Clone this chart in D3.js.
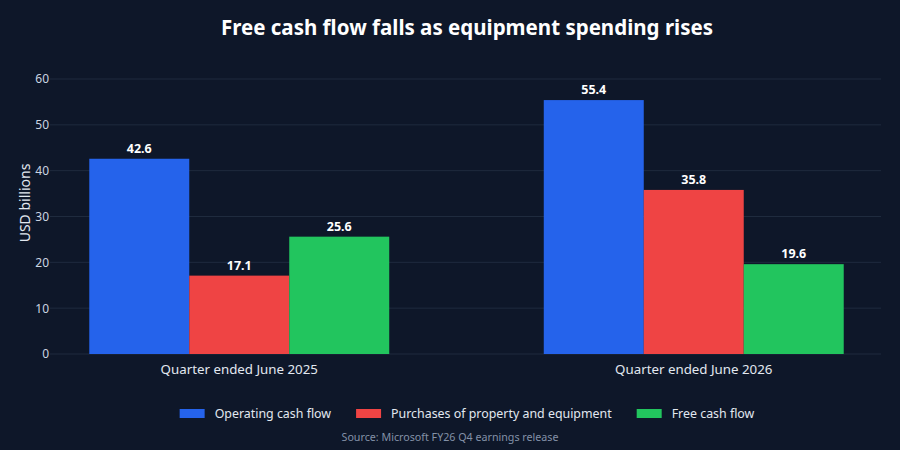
<!DOCTYPE html>
<html>
<head>
<meta charset="utf-8">
<script src="https://cdn.jsdelivr.net/npm/d3@7"></script>
<style>
    body { margin: 0; background: #0e1729; }
    text { font-family: "Noto Sans", "Open Sans", sans-serif; }
</style>
</head>
<body>
<script>
// chart values
var quarters = ["Quarter ended June 2025", "Quarter ended June 2026"];
var seriesNames = ["Operating cash flow", "Purchases of property and equipment", "Free cash flow"];
var operatingCash = [42.6, 55.4];
var capexSpend = [17.1, 35.8];
var freeCash = [25.6, 19.6];
var yTicks = [0, 10, 20, 30, 40, 50, 60];
var seriesColors = ["#2563eb", "#ef4444", "#22c55e"];

(function(){

var width = 900,
    height = 450,
    plotLeft = 52,
    plotRight = 881,
    plotTop = 79,
    plotBottom = 354;

var svg = d3.select("body")
    .append("svg")
    .attr("width", width)
    .attr("height", height);

svg.append("rect")
    .attr("width", width)
    .attr("height", height)
    .attr("fill", "#0e1729");

var seriesValues = [operatingCash, capexSpend, freeCash];
var rows = [];
quarters.forEach(function(q, i){
    seriesNames.forEach(function(s, j){
        rows.push({quarter: q, series: s, value: seriesValues[j][i], idx: j});
    });
});

var x0 = d3.scaleBand()
    .domain(quarters)
    .range([plotLeft, plotRight])
    .paddingInner(0.34)
    .paddingOuter(0.082);

var x1 = d3.scaleBand()
    .domain(seriesNames)
    .range([0, x0.bandwidth()]);

var y = d3.scaleLinear()
    .domain([0, 60])
    .range([plotBottom, plotTop]);

//grid lines (they start a little left of the plot edge)
svg.selectAll(".grid")
    .data(yTicks)
    .enter()
    .append("line")
    .attr("class", "grid")
    .attr("x1", plotLeft - 2)
    .attr("x2", plotRight)
    .attr("y1", function(d){ return y(d); })
    .attr("y2", function(d){ return y(d); })
    .attr("stroke", "#1f2b3e")
    .attr("stroke-width", 1);

var yAxis = d3.axisLeft(y).tickValues(yTicks).tickSize(0).tickPadding(0);
var yg = svg.append("g")
    .attr("transform", "translate(" + (plotLeft - 3) + ",0)")
    .call(yAxis);
yg.select(".domain").remove();
yg.selectAll("text")
    .attr("fill", "#cbd5e1")
    .style("font-family", "'Noto Sans', sans-serif")
    .style("font-size", "12px");

svg.append("text")
    .attr("transform", "translate(30,203) rotate(-90)")
    .attr("text-anchor", "middle")
    .attr("fill", "#e2e8f0")
    .style("font-size", "14px")
    .text("USD billions");

//bars
svg.selectAll(".bar")
    .data(rows)
    .enter()
    .append("rect")
    .attr("class", "bar")
    .attr("x", function(d){ return x0(d.quarter) + x1(d.series); })
    .attr("width", x1.bandwidth())
    .attr("y", function(d){ return y(d.value); })
    .attr("height", function(d){ return y(0) - y(d.value); })
    .attr("fill", function(d){ return seriesColors[d.idx]; });

svg.selectAll(".barLabel")
    .data(rows)
    .enter()
    .append("text")
    .attr("class", "barLabel")
    .attr("x", function(d){ return x0(d.quarter) + x1(d.series) + x1.bandwidth() / 2; })
    .attr("y", function(d){ return y(d.value) - 6; })
    .attr("text-anchor", "middle")
    .attr("fill", "#ffffff")
    .style("font-size", "12.5px")
    .style("font-weight", "bold")
    .text(function(d){ return d.value.toFixed(1); });

var xAxis = d3.axisBottom(x0).tickSize(0).tickPadding(0);
var xg = svg.append("g")
    .attr("transform", "translate(0," + (plotBottom + 8) + ")")
    .call(xAxis);
xg.select(".domain").remove();
xg.selectAll("text")
    .attr("fill", "#e2e8f0")
    .attr("dy", "0.9em")
    .style("font-family", "'Noto Sans', sans-serif")
    .style("font-size", "13.3px");

//title
svg.append("text")
    .attr("x", width / 2 + 17)
    .attr("y", 35)
    .attr("text-anchor", "middle")
    .attr("fill", "#ffffff")
    .style("font-size", "20.5px")
    .style("font-weight", "bold")
    .text("Free cash flow falls as equipment spending rises");

//legend, laid out then centred on the plot
var legend = svg.append("g");
var legendX = 0;
seriesNames.forEach(function(name, i){
    var g = legend.append("g").attr("transform", "translate(" + legendX + ",413)");
    g.append("rect")
        .attr("x", 0)
        .attr("y", -4)
        .attr("width", 25)
        .attr("height", 9)
        .attr("fill", seriesColors[i]);
    var t = g.append("text")
        .attr("x", 35)
        .attr("y", 5)
        .attr("fill", "#e2e8f0")
        .style("font-size", "12.4px")
        .text(name);
    legendX += 35 + t.node().getComputedTextLength() + (i < seriesNames.length - 1 ? 25 : 0);
});
legend.attr("transform", "translate(" + (467 - legendX / 2) + ",0)");

svg.append("text")
    .attr("x", width / 2)
    .attr("y", 441)
    .attr("text-anchor", "middle")
    .attr("fill", "#8391a7")
    .style("font-size", "10.7px")
    .text("Source: Microsoft FY26 Q4 earnings release");

})();
</script>
</body>
</html>
